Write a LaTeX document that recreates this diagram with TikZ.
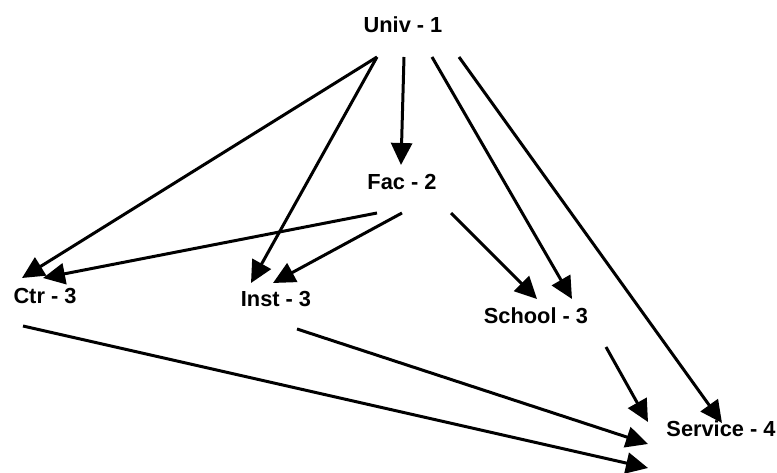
\documentclass[tikz,border=0pt]{standalone}
\usepackage{fontspec}
\setmainfont{Liberation Sans}
\usetikzlibrary{arrows.meta}
\begin{document}
\begin{tikzpicture}[x=1pt,y=-1pt,
  lbl/.style={inner sep=0pt,anchor=center,font=\fontsize{21.8}{24}\selectfont\bfseries},
  arr/.style={line width=3pt,-{Triangle[length=22pt,width=21pt]}}]
\useasboundingbox (0,0) rectangle (777,473);
\node[lbl] (univ) at (403,25) {Univ - 1};
\node[lbl] (fac) at (402,182) {Fac - 2};
\node[lbl] (ctr) at (45,296.5) {Ctr - 3};
\node[lbl] (inst) at (276,299) {Inst - 3};
\node[lbl] (school) at (536,316) {School - 3};
\node[lbl] (service) at (721,429) {Service - 4};
% from Univ
\draw[arr] ([shift={(-26,32)}]univ.center) -- ([shift={(-23,-18.5)}]ctr.center);
\draw[arr] ([shift={(-26,32)}]univ.center) -- ([shift={(-25,-16)}]inst.center);
\draw[arr] ([shift={(1,32)}]univ.center) -- ([shift={(-1,-17)}]fac.center);
\draw[arr] ([shift={(29,32)}]univ.center) -- ([shift={(36,-17)}]school.center);
\draw[arr] ([shift={(56,32)}]univ.center) -- ([shift={(1,-6)}]service.center);
% from Fac
\draw[arr] ([shift={(-25,31)}]fac.center) -- ([shift={(-2,-18.5)}]ctr.center);
\draw[arr] ([shift={(0,31)}]fac.center) -- ([shift={(-3,-16)}]inst.center);
\draw[arr] ([shift={(49,31)}]fac.center) -- ([shift={(1,-17)}]school.center);
% to Service
\draw[arr] ([shift={(-22,29.5)}]ctr.center) -- ([shift={(-73,39)}]service.center);
\draw[arr] ([shift={(21,30)}]inst.center) -- ([shift={(-73,15)}]service.center);
\draw[arr] ([shift={(70,31)}]school.center) -- ([shift={(-73,-7)}]service.center);
\end{tikzpicture}
\end{document}
